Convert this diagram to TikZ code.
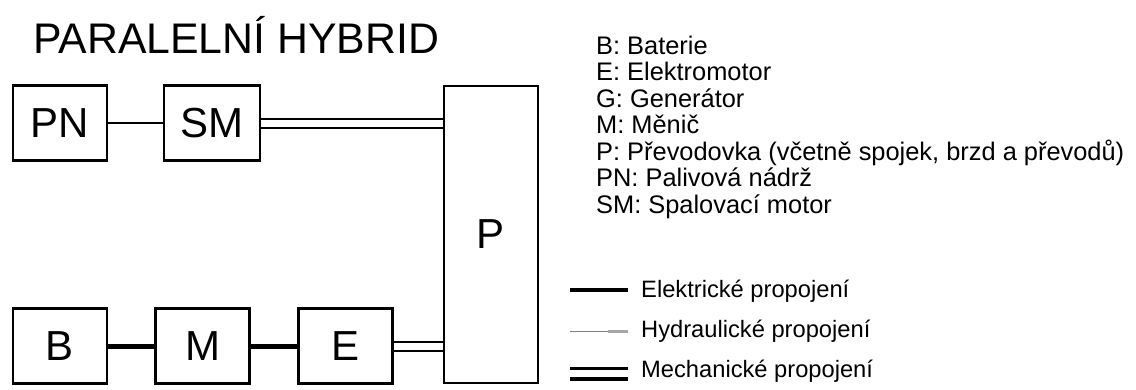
\documentclass[tikz,border=0pt]{standalone}
\usepackage{fontspec}
\setmainfont{Liberation Sans}
\usepackage{tikz}

\begin{document}
\begin{tikzpicture}[x=1pt, y=-1pt,
    blok/.style={draw, line width=2.5pt, inner sep=0pt, minimum width=94pt,
        minimum height=75pt, font=\fontsize{42}{42}\selectfont},
    popis/.style={anchor=base west, inner sep=0pt, font=\fontsize{23.7}{23.7}\selectfont},
    klic/.style={anchor=base west, inner sep=0pt, font=\fontsize{25.4}{25.4}\selectfont},
    elvod/.style={line width=5pt},
    mechvod/.style={double, double distance=7pt, line width=2pt},
    palvod/.style={line width=2pt}]
    \useasboundingbox (0,0) rectangle (1136,389);

    \node[anchor=base west, inner sep=0pt, font=\fontsize{42.8}{42}\selectfont]
        at (33,53) (nadpis) {PARALELNÍ HYBRID};

    % horni rada
    \node[blok] at (60,123) (pn) {PN};
    \node[blok, minimum width=96pt] at (212,123) (sm) {SM};
    \node[blok, minimum height=297pt] at (491,234.5) (p) {P};

    % dolni rada
    \node[blok] at (60,346) (b) {B};
    \node[blok] at (202.5,346) (m) {M};
    \node[blok] at (345.5,346) (e) {E};

    \draw[palvod] (pn.east) -- (sm.west);
    \draw[mechvod] (sm.east) -- (sm.east -| p.west);
    \draw[elvod] (b.east) -- (m.west);
    \draw[elvod] (m.east) -- (e.west);
    \draw[mechvod] (e.east) -- (e.east -| p.west);

    % vysvetlivky
    \node[klic] at (596,54) (k1) {B: Baterie};
    \node[klic] at (596,80.5) (k2) {E: Elektromotor};
    \node[klic] at (596,107) (k3) {G: Generátor};
    \node[klic] at (596,133.5) (k4) {M: Měnič};
    \node[klic] at (596,160) (k5) {P: Převodovka (včetně spojek, brzd a převodů)};
    \node[klic] at (596,186.5) (k6) {PN: Palivová nádrž};
    \node[klic] at (596,213) (k7) {SM: Spalovací motor};

    % legenda
    \node[popis] at (641,297) (l1) {Elektrické propojení};
    \node[popis] at (641,337) (l2) {Hydraulické propojení};
    \node[popis] at (641,377) (l3) {Mechanické propojení};
    \draw[line width=4.5pt] (570,290) -- (628,290);
    \draw[line width=1pt, gray] (570,331) -- (628,331);
    \draw[line width=3pt, gray!70] (608,331) -- (628,331);
    \draw[double, double distance=7pt, line width=3.5pt] (570,373.5) -- (628,373.5);
\end{tikzpicture}
\end{document}
